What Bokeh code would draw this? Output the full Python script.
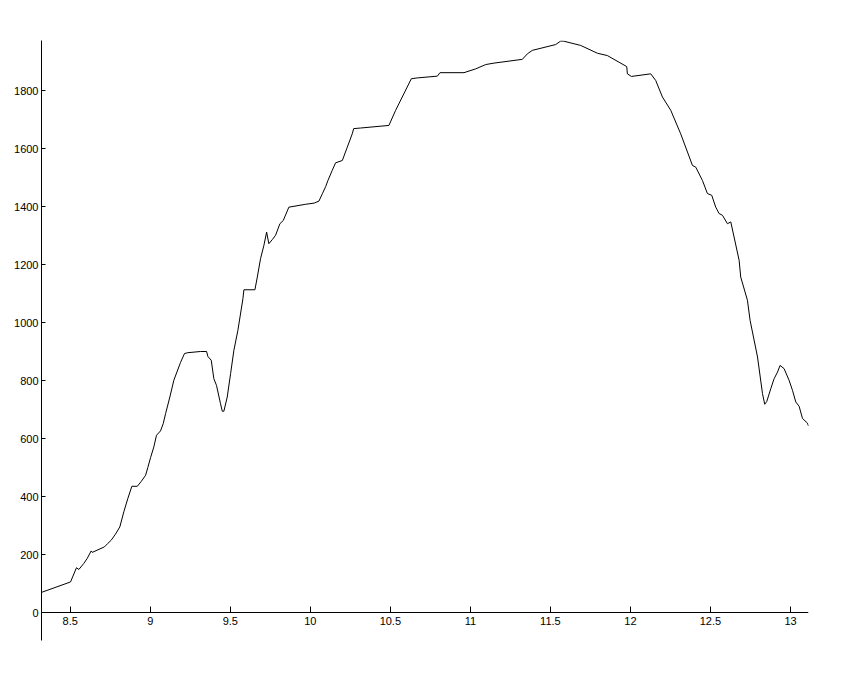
from bokeh.plotting import figure
from bokeh.models import Range1d, FixedTicker
from bokeh.embed import file_html
from bokeh.resources import INLINE

xs = [8.3206, 8.502, 8.539, 8.554, 8.585, 8.606, 8.631, 8.6375, 8.714, 8.735, 8.756, 8.783, 8.810,
      8.835, 8.860, 8.885, 8.919, 8.944, 8.971, 8.985, 9.002, 9.0225, 9.039, 9.064, 9.081, 9.096,
      9.1225, 9.1475, 9.189, 9.214, 9.235, 9.314, 9.352, 9.360, 9.381, 9.3975, 9.414, 9.439, 9.45,
      9.46, 9.481, 9.502, 9.5225, 9.5475, 9.579, 9.585, 9.654, 9.669, 9.689, 9.71, 9.727, 9.741,
      9.7625, 9.783, 9.81, 9.831, 9.866, 9.971, 10.024, 10.054, 10.075, 10.096, 10.11, 10.137,
      10.158, 10.2, 10.231, 10.262, 10.271, 10.313, 10.491, 10.533, 10.631, 10.669, 10.794, 10.81,
      10.96, 11.033, 11.096, 11.1475, 11.325, 11.356, 11.3875, 11.533, 11.564, 11.581, 11.689,
      11.794, 11.856, 11.929, 11.977, 11.981, 12.006, 12.127, 12.158, 12.2, 12.252, 12.314,
      12.3875, 12.408, 12.45, 12.481, 12.508, 12.533, 12.554, 12.575, 12.606, 12.627, 12.6475,
      12.679, 12.689, 12.731, 12.7475, 12.794, 12.825, 12.839, 12.852, 12.877, 12.8975, 12.919,
      12.935, 12.96, 12.991, 13.0125, 13.033, 13.054, 13.075, 13.106, 13.1125]
ys = [70, 106, 155, 149, 170, 187, 213, 208, 227, 239, 250, 271, 296,
      348, 394, 436, 436, 453, 474, 501, 535, 572, 612, 627, 652, 687,
      744, 802, 863, 894, 897, 901, 901, 884, 871, 807, 784, 721, 695,
      695, 744, 825, 905, 974, 1083, 1114, 1114, 1158, 1221, 1267, 1313, 1273,
      1287, 1302, 1342, 1353, 1399, 1409, 1413, 1420, 1445, 1470, 1491, 1526,
      1552, 1560, 1606, 1652, 1670, 1672, 1681, 1733, 1842, 1845, 1851, 1863,
      1863, 1876, 1891, 1896, 1909, 1928, 1940, 1960, 1972, 1972, 1957,
      1930, 1922, 1899, 1884, 1859, 1850, 1859, 1836, 1779, 1733, 1652,
      1543, 1537, 1491, 1446, 1440, 1399, 1377, 1371, 1342, 1348, 1296,
      1216, 1158, 1078, 1009, 882, 756, 719, 729, 773, 807, 830,
      853, 842, 802, 767, 727, 712, 670, 654, 644]

x_ticks = [8.5, 9, 9.5, 10, 10.5, 11, 11.5, 12, 12.5, 13]
x_labels = ["8.5", "9", "9.5", "10", "10.5", "11", "11.5", "12", "12.5", "13"]
y_ticks = [0, 200, 400, 600, 800, 1000, 1200, 1400, 1600, 1800]

p = figure(width=840, height=673, output_backend="svg", toolbar_location=None,
           x_range=Range1d(8.3206, 13.1125), y_range=Range1d(-96, 1974),
           min_border_left=41, min_border_right=32, min_border_top=40, min_border_bottom=33)
p.outline_line_color = None
p.grid.visible = False
p.background_fill_color = "white"
p.border_fill_color = "white"

p.line(xs, ys, line_color="black", line_width=1)

font = "Liberation Sans"
xa = p.xaxis[0]
xa.ticker = FixedTicker(ticks=x_ticks)
xa.major_label_overrides = {t: l for t, l in zip(x_ticks, x_labels)}
xa.fixed_location = 0
xa.major_tick_in = 6
xa.major_tick_out = 0
xa.minor_tick_line_color = None
xa.axis_line_color = "black"
xa.major_tick_line_color = "black"
xa.major_label_text_color = "black"
xa.major_label_text_font = font
xa.major_label_text_font_size = "11px"
xa.major_label_standoff = 4

ya = p.yaxis[0]
ya.ticker = FixedTicker(ticks=y_ticks)
ya.major_tick_in = 4
ya.major_tick_out = 0
ya.minor_tick_line_color = None
ya.axis_line_color = "black"
ya.major_tick_line_color = "black"
ya.major_label_text_color = "black"
ya.major_label_text_font = font
ya.major_label_text_font_size = "11px"
ya.major_label_standoff = 3

open("out.html", "w").write(file_html(p, INLINE))
